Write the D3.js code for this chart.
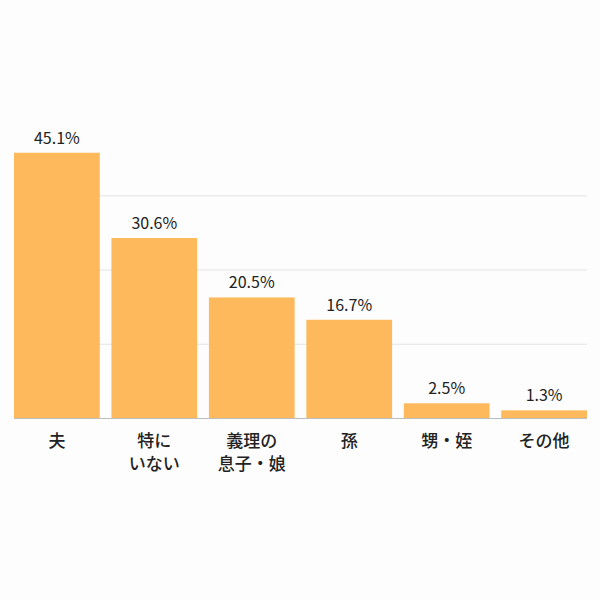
<!DOCTYPE html>
<html lang="ja">
<head>
    <meta charset="utf-8">
    <title>Chart</title>
    <script src="https://d3js.org/d3.v7.min.js"></script>
    <style>
        html, body {
        margin:0;
        background:#fdfdfd;
        }
        svg {
        display:block;
        }
    </style>
</head>
<body>
<svg width="600" height="600"></svg>
<script>
    // data
    var categories = [["夫"], ["特に", "いない"], ["義理の", "息子・娘"], ["孫"], ["甥・姪"], ["その他"]];
    var values = [45.1, 30.6, 20.5, 16.7, 2.5, 1.3];
    var gridValues = [12.625, 25.25, 37.875];

    var svg = d3.select('svg');
    var fontFamily = '"Noto Sans CJK JP", "Noto Sans", sans-serif';

    var x = d3.scaleBand()
        .domain(d3.range(values.length))
        .range([14, 587])
        .paddingInner(0.12)
        .paddingOuter(0);

    var y = d3.scaleLinear()
        .domain([0, 50.5])
        .range([418, 121]);

    // gridlines
    svg.append("g")
        .selectAll("line")
        .data(gridValues)
        .enter()
        .append("line")
        .attr("x1", 14)
        .attr("x2", 587)
        .attr("y1", function(d) { return y(d) + 0.5; })
        .attr("y2", function(d) { return y(d) + 0.5; })
        .attr("stroke", "#e4e4e4")
        .attr("stroke-width", 1);

    // baseline
    svg.append("line")
        .attr("x1", 14)
        .attr("x2", 587)
        .attr("y1", y(0) + 0.5)
        .attr("y2", y(0) + 0.5)
        .attr("stroke", "#bdbdbd")
        .attr("stroke-width", 1);

    // bars
    svg.append("g")
        .selectAll("rect")
        .data(values)
        .enter()
        .append("rect")
        .attr("x", function(d, i) { return x(i); })
        .attr("y", function(d) { return y(d); })
        .attr("width", x.bandwidth())
        .attr("height", function(d) { return y(0) - y(d); })
        .attr("fill", "#fdb95c");

    // value labels
    svg.append("g")
        .selectAll("text")
        .data(values)
        .enter()
        .append("text")
        .attr("x", function(d, i) { return x(i) + x.bandwidth() / 2; })
        .attr("y", function(d) { return y(d) - 9; })
        .attr("text-anchor", "middle")
        .attr("font-family", fontFamily)
        .attr("font-size", 16)
        .attr("font-weight", 400)
        .attr("fill", "#222")
        .text(function(d) { return d.toFixed(1) + "%"; });

    // category labels
    var cat = svg.append("g")
        .selectAll("text")
        .data(categories)
        .enter()
        .append("text")
        .attr("text-anchor", "middle")
        .attr("font-family", fontFamily)
        .attr("font-size", 17)
        .attr("font-weight", 500)
        .attr("fill", "#222");

    cat.selectAll("tspan")
        .data(function(d, i) { return d.map(function(t) { return {t: t, i: i}; }); })
        .enter()
        .append("tspan")
        .attr("x", function(d) { return x(d.i) + x.bandwidth() / 2; })
        .attr("y", function(d, j) { return 446.5 + j * 23.5; })
        .text(function(d) { return d.t; });
</script>
</body>
</html>
